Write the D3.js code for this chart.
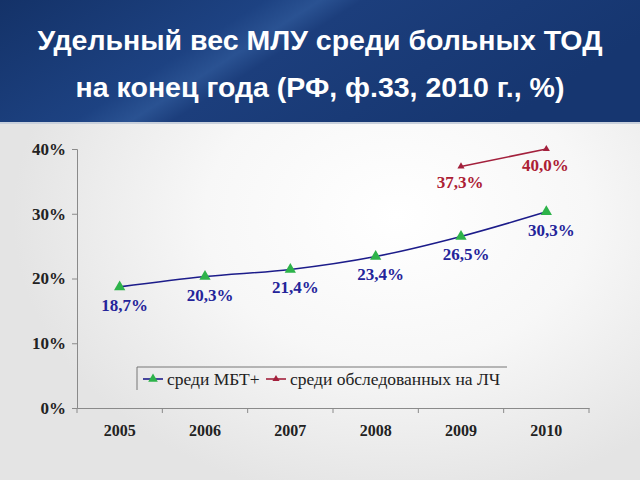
<!DOCTYPE html>
<html><head><meta charset="utf-8">
<script src="https://cdn.jsdelivr.net/npm/d3@7"></script>
<style>html,body{margin:0;padding:0;overflow:hidden;}svg{display:block;}</style>
</head><body>
<script>
const years = ["2005","2006","2007","2008","2009","2010"];
const mbtValues = [18.7, 20.3, 21.4, 23.4, 26.5, 30.3];
const lchYears = ["2009","2010"];
const lchValues = [37.3, 40.0];
const yTicks = [0, 10, 20, 30, 40];
const titleLines = ["Удельный вес МЛУ среди больных ТОД", "на конец года (РФ, ф.33, 2010 г., %)"];
const legendLabels = ["среди МБТ+", "среди обследованных на ЛЧ"];

const W = 640, H = 480;
const svg = d3.select("body").append("svg").attr("width", W).attr("height", H);
const defs = svg.append("defs");

const bg = defs.append("radialGradient").attr("id","bg").attr("cx","0.62").attr("cy","0.45").attr("r","0.6");
bg.append("stop").attr("offset","0").attr("stop-color","#ffffff");
bg.append("stop").attr("offset","0.5").attr("stop-color","#f7f7f7");
bg.append("stop").attr("offset","1").attr("stop-color","#e4e4e4");
svg.append("rect").attr("width",W).attr("height",H).attr("fill","url(#bg)");

const hg = defs.append("linearGradient").attr("id","hg").attr("x1","0").attr("y1","0").attr("x2","1").attr("y2","0.3");
hg.append("stop").attr("offset","0").attr("stop-color","#143268");
hg.append("stop").attr("offset","0.38").attr("stop-color","#1d4282");
hg.append("stop").attr("offset","0.46").attr("stop-color","#2a5292");
hg.append("stop").attr("offset","0.52").attr("stop-color","#1c3e7c");
hg.append("stop").attr("offset","1").attr("stop-color","#163670");
svg.append("rect").attr("width",W).attr("height",122).attr("fill","url(#hg)");
svg.append("rect").attr("y",122).attr("width",W).attr("height",2).attr("fill","#c8d0dc");

svg.selectAll("text.title").data(titleLines).enter().append("text")
  .attr("x", 320).attr("y", (d,i)=> 50 + i*47)
  .attr("text-anchor","middle")
  .attr("font-family","Liberation Sans, Arial, sans-serif")
  .attr("font-weight","bold").attr("font-size", 28.5)
  .attr("fill","#ffffff").text(d=>d);

const x = d3.scaleBand().domain(years).range([77, 589]);
const y = d3.scaleLinear().domain([0, 40]).range([408, 149]);
const cx = d => x(d) + x.bandwidth()/2;

const axisColor = "#8a8a8a";
const serif = "Liberation Serif, Times New Roman, serif";

// y axis
const ya = svg.append("g").attr("transform","translate(77,0)")
  .call(d3.axisLeft(y).tickValues(yTicks).tickFormat(d=>d+"%").tickSize(5).tickPadding(6));
ya.select(".domain").attr("stroke",axisColor);
ya.selectAll(".tick line").attr("stroke",axisColor);
ya.selectAll(".tick text").attr("font-family",serif).attr("font-weight","bold")
  .attr("font-size",17).attr("fill","#222");

// x axis
const xa = svg.append("g").attr("transform","translate(0,408)")
  .call(d3.axisBottom(x).tickSize(0).tickPadding(17));
xa.select(".domain").attr("stroke",axisColor);
xa.selectAll(".tick text").attr("font-family",serif).attr("font-weight","bold")
  .attr("font-size",16).attr("fill","#222");
const bounds = years.map(d=>x(d)).concat([x(years[years.length-1]) + x.bandwidth()]);
svg.selectAll("line.xt").data(bounds).enter().append("line")
  .attr("x1",d=>d).attr("x2",d=>d).attr("y1",408).attr("y2",413).attr("stroke",axisColor);

// series
const blue = "#1c1c8a", green = "#2db34a", red = "#a3203c";
const mbt = years.map((d,i)=>({k:d, v:mbtValues[i]}));
const lch = lchYears.map((d,i)=>({k:d, v:lchValues[i]}));
const line = d3.line().x(d=>cx(d.k)).y(d=>y(d.v)).curve(d3.curveMonotoneX);

svg.append("path").attr("d", line(mbt)).attr("fill","none").attr("stroke",blue).attr("stroke-width",1.6);
svg.append("path").attr("d", line(lch)).attr("fill","none").attr("stroke",red).attr("stroke-width",1.6);

const tri = d3.symbol().type(d3.symbolTriangle);
svg.selectAll("path.m1").data(mbt).enter().append("path")
  .attr("d", tri.size(55)()).attr("transform",d=>`translate(${cx(d.k)},${y(d.v)})`).attr("fill",green);
svg.selectAll("path.m2").data(lch).enter().append("path")
  .attr("d", d3.symbol().type(d3.symbolTriangle).size(22)()).attr("transform",d=>`translate(${cx(d.k)},${y(d.v)})`).attr("fill",red);

const fmt = v => v.toFixed(1).replace(".", ",") + "%";
svg.selectAll("text.l1").data(mbt).enter().append("text")
  .attr("x", d=>cx(d.k)+5).attr("y", d=>y(d.v)+24)
  .attr("text-anchor","middle").attr("font-family",serif).attr("font-size",17).attr("font-weight","bold")
  .attr("fill","#24249a").text(d=>fmt(d.v));
svg.selectAll("text.l2").data(lch).enter().append("text")
  .attr("x", d=>cx(d.k)-1).attr("y", d=>y(d.v)+22)
  .attr("text-anchor","middle").attr("font-family",serif).attr("font-size",17).attr("font-weight","bold")
  .attr("fill","#ac2034").text(d=>fmt(d.v));

// legend
const lg = svg.append("g");
lg.append("line").attr("x1",137).attr("x2",507).attr("y1",367).attr("y2",367).attr("stroke","#777");
lg.append("line").attr("x1",137).attr("x2",137).attr("y1",367).attr("y2",390).attr("stroke","#777");
const items = [{t:legendLabels[0], c:blue, m:green, x:143, s:40},{t:legendLabels[1], c:red, m:red, x:266, s:22}];
items.forEach(it=>{
  lg.append("line").attr("x1",it.x).attr("x2",it.x+20).attr("y1",379).attr("y2",379).attr("stroke",it.c).attr("stroke-width",1.6);
  lg.append("path").attr("d", d3.symbol().type(d3.symbolTriangle).size(it.s)()).attr("transform",`translate(${it.x+10},379)`).attr("fill",it.m);
  lg.append("text").attr("x",it.x+24).attr("y",384.5).attr("font-family",serif).attr("font-size",17.5)
    .attr("fill","#222").text(it.t);
});
</script>
</body></html>
